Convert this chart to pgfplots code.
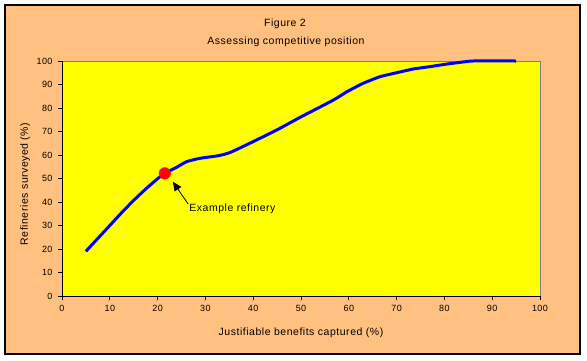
\documentclass[border=0pt]{standalone}
\usepackage{pgfplots}
\pgfplotsset{compat=1.18}
\usepackage{fontspec}
\setmainfont{Liberation Sans}
\newfontfamily\lbl[LetterSpace=5]{Liberation Sans}
\usetikzlibrary{arrows.meta}
\definecolor{bgorange}{RGB}{255,192,128}
\definecolor{plotyellow}{RGB}{255,255,0}
\definecolor{curveblue}{RGB}{0,0,255}
\definecolor{framegray}{RGB}{128,128,128}
\begin{document}
\begin{tikzpicture}
\path[use as bounding box, fill=white] (0pt,0pt) rectangle (587pt,360pt);
\draw[line width=1.5pt, fill=bgorange] (5pt,6pt) rectangle (580pt,355pt);
\node[font=\lbl\fontsize{10.5}{12}\selectfont] at (285pt,336pt) {Figure 2};
\node[font=\lbl\fontsize{10.5}{12}\selectfont] at (286pt,318.5pt) {Assessing competitive position};
\begin{axis}[
  at={(62pt,64pt)}, anchor=south west,
  scale only axis, width=478pt, height=235pt,
  xmin=0, xmax=100, ymin=0, ymax=100,
  xtick={0,10,...,100}, ytick={0,10,...,100},
  minor tick num=0,
  tick align=outside, major tick length=4pt,
  tick style={black, line width=0.8pt},
  axis background/.style={fill=plotyellow},
  axis line style={framegray, line width=0.8pt},
  separate axis lines,
  x axis line style={-},
  y axis line style={-},
  xtick pos=bottom, ytick pos=left,
  ticklabel style={font=\lbl\fontsize{9}{10}\selectfont},
  /pgf/number format/assume math mode=true,
  xticklabel style={yshift=-2pt},
  yticklabel style={xshift=-2pt},
  xlabel={Justifiable benefits captured (\%)},
  ylabel={Refineries surveyed (\%)},
  label style={font=\lbl\fontsize{10.5}{12}\selectfont},
  xlabel style={at={(axis description cs:0.5,-0.157)}, anchor=center},
  ylabel style={at={(axis description cs:-0.077,0.477)}, anchor=center, rotate=0},
  clip=false,
]
\draw[black, line width=0.8pt] (axis cs:0,100) -- (axis cs:0,0) -- (axis cs:100,0);
\addplot[curveblue, line width=3pt, line join=round, smooth, tension=0.3] coordinates {
(5,19) (7.5,24.5) (10,30) (12.5,35.5) (15,40.7) (17.5,45.5) (20,49.9)
(21.5,52.2) (24,54.8) (26.1,57.2) (28.9,58.6) (32.7,59.7) (35.1,61.0)
(39.3,65.0) (44.9,70.6) (49.8,76.0) (56.8,83.4) (59.6,86.9) (63,90.5)
(66.5,93.3) (70,95) (73.5,96.6) (77,97.6) (80.5,98.7) (84,99.6) (86,100) (95,100)
};
\addplot[only marks, mark=*, mark size=5.8pt, color=red, mark options={fill=red, draw=red}] coordinates {(21.5,52.2)};
\draw[black, line width=0.8pt, -{Triangle[length=9pt,width=8pt]}] (axis cs:26.4,39.1) -- (axis cs:23.2,48.6);
\node[anchor=west, font=\lbl\fontsize{10.5}{12}\selectfont, inner sep=0pt] at (axis cs:26.6,37) {Example refinery};
\end{axis}
\end{tikzpicture}
\end{document}
